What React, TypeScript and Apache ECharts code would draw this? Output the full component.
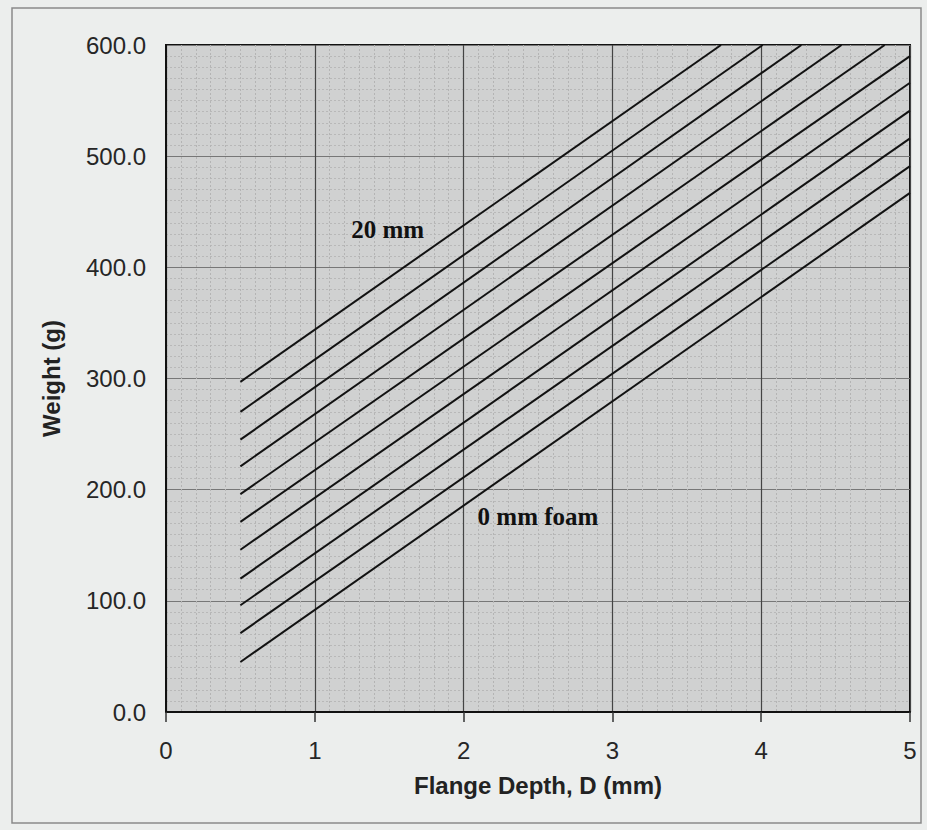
import React, { useEffect, useRef } from "react";
import * as echarts from "echarts";

// ---- data ----
const foamThickness = [0, 2, 4, 6, 8, 10, 12, 14, 16, 18, 20]; // mm
const startDepth = 0.5;
const startWeights = [45, 71, 96, 120, 146, 171, 196, 221, 245, 270, 297];
const endDepths = [5, 5, 5, 5, 5, 5, 4.83, 4.54, 4.27, 4.01, 3.73];
const endWeights = [467, 491, 516, 541, 566, 590, 600, 600, 600, 600, 600];

const annotationTexts = ["20 mm", "0 mm foam"];
const annotationX = [1.49, 2.5];
const annotationY = [434, 176];

const xTicks = [0, 1, 2, 3, 4, 5];
const yTicks = [0, 100, 200, 300, 400, 500, 600];

export default function App() {
  const ref = useRef<HTMLDivElement>(null);

  useEffect(() => {
    if (!ref.current) return;
    const chart = echarts.init(ref.current, null, { renderer: "svg" });

    const lineSeries = foamThickness.map((t, i) => ({
      name: `${t} mm`,
      type: "line",
      data: [
        [startDepth, startWeights[i]],
        [endDepths[i], endWeights[i]],
      ],
      showSymbol: false,
      symbol: "none",
      silent: true,
      lineStyle: { color: "#121212", width: 2 },
      z: 5,
    }));

    const annotationSeries = {
      type: "scatter",
      symbolSize: 0,
      silent: true,
      z: 6,
      data: annotationTexts.map((t, i) => ({ value: [annotationX[i], annotationY[i]], name: t })),
      label: {
        show: true,
        position: "inside",
        formatter: (p: any) => p.name,
        fontFamily: "Liberation Serif",
        fontWeight: "bold",
        fontSize: 25,
        color: "#111111",
        textBorderWidth: 0,
        opacity: 1,
      },
    };

    chart.setOption({
      animation: false,
      backgroundColor: "#eceeed",
      graphic: [
        {
          type: "rect",
          shape: { x: 12, y: 8, width: 909, height: 815 },
          style: { fill: "none", stroke: "#8a8a8a", lineWidth: 1.5 },
          silent: true,
          z: -1,
        },
      ],
      grid: {
        left: 166,
        right: 17,
        top: 45,
        bottom: 118,
        show: true,
        backgroundColor: "#d0d1d1",
        borderColor: "#111",
        borderWidth: 2,
        containLabel: false,
      },
      xAxis: {
        type: "value",
        min: xTicks[0],
        max: xTicks[xTicks.length - 1],
        interval: 1,
        name: "Flange Depth, D (mm)",
        nameLocation: "middle",
        nameGap: 61,
        nameTextStyle: {
          fontFamily: "Liberation Sans",
          fontWeight: "bold",
          fontSize: 24,
          color: "#222",
        },
        axisLine: { show: true, onZero: false, lineStyle: { color: "#111", width: 2 } },
        axisTick: { show: true, length: 10, inside: false, lineStyle: { color: "#333", width: 1.5 } },
        axisLabel: {
          fontFamily: "Liberation Sans",
          fontSize: 24,
          color: "#262626",
          margin: 26,
        },
        splitLine: { show: true, lineStyle: { color: "#444", width: 1.2 } },
        minorTick: { show: false, splitNumber: 10 },
        minorSplitLine: { show: true, lineStyle: { color: "#b4b4b4", width: 1, type: [2, 2] } },
      },
      yAxis: {
        type: "value",
        min: yTicks[0],
        max: yTicks[yTicks.length - 1],
        interval: 100,
        name: "Weight (g)",
        nameLocation: "middle",
        nameGap: 103,
        nameTextStyle: {
          fontFamily: "Liberation Sans",
          fontWeight: "bold",
          fontSize: 24,
          color: "#222",
        },
        axisLine: { show: true, onZero: false, lineStyle: { color: "#111", width: 2 } },
        axisTick: { show: false },
        axisLabel: {
          fontFamily: "Liberation Sans",
          fontSize: 24,
          color: "#262626",
          margin: 20,
          formatter: (v: number) => v.toFixed(1),
        },
        splitLine: { show: true, lineStyle: { color: "#777", width: 1.2 } },
        minorTick: { show: false, splitNumber: 10 },
        minorSplitLine: { show: true, lineStyle: { color: "#b8b8b8", width: 1, type: [2, 2] } },
      },
      series: [...lineSeries, annotationSeries],
    });

    return () => chart.dispose();
  }, []);

  return (
    <div
      ref={ref}
      style={{ position: "fixed", left: 0, top: 0, width: 927, height: 830 }}
    />
  );
}
